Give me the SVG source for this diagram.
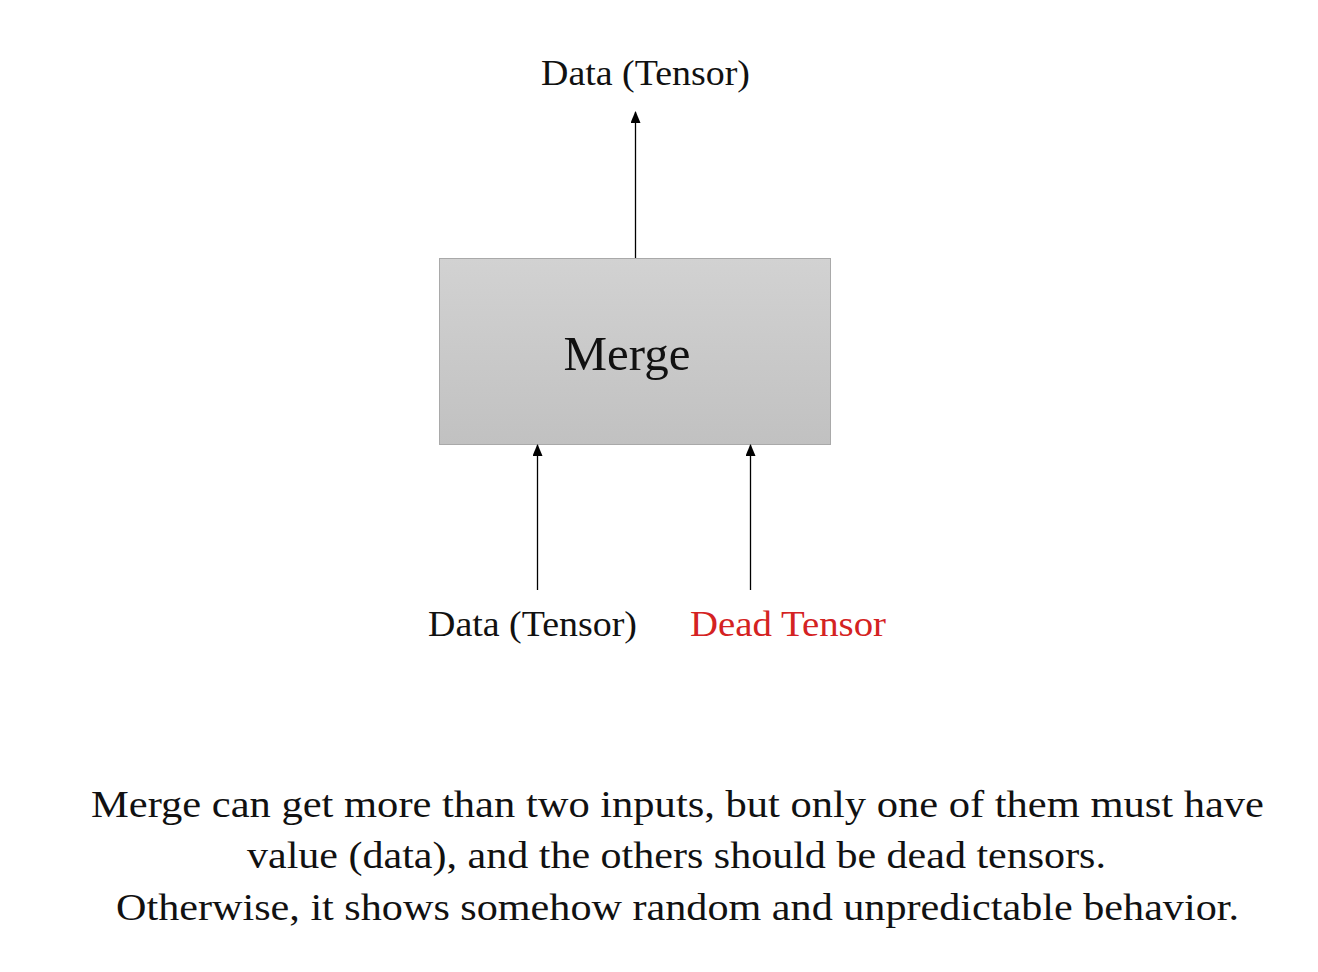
<svg xmlns="http://www.w3.org/2000/svg" width="1318" height="972" viewBox="0 0 1318 972">
<style>
text{font-family:"Liberation Serif","Times New Roman",serif;fill:#111;}
.lbl{font-size:36px;}
.para{font-size:37px;text-anchor:middle;}
.conn line{stroke:#000;stroke-width:1.3;marker-end:url(#arr);}
</style>
<defs>
<marker id="arr" viewBox="0 0 12 10" refX="11" refY="5" markerWidth="12" markerHeight="10" markerUnits="userSpaceOnUse" orient="auto">
<path d="M0,0 L12,5 L0,10 Z" fill="#000"/>
</marker>
<linearGradient id="g" x1="0" y1="0" x2="0" y2="1">
<stop offset="0" stop-color="#d2d2d2"/>
<stop offset="1" stop-color="#c1c1c1"/>
</linearGradient>
</defs>
<rect width="1318" height="972" fill="#fff"/>
<g id="merge">
<rect x="439.5" y="258.5" width="391" height="186" fill="url(#g)" stroke="#a9a9a9" stroke-width="1"/>
<text x="627" y="370" font-size="48" text-anchor="middle" textLength="127" lengthAdjust="spacingAndGlyphs">Merge</text>
</g>
<g id="out-label">
<text class="lbl" x="541" y="85" textLength="209" lengthAdjust="spacingAndGlyphs">Data (Tensor)</text>
</g>
<g id="in-data">
<text class="lbl" x="428" y="636" textLength="209" lengthAdjust="spacingAndGlyphs">Data (Tensor)</text>
</g>
<g id="in-dead">
<text class="lbl" x="690" y="636" textLength="196" lengthAdjust="spacingAndGlyphs" style="fill:#d42222">Dead Tensor</text>
</g>
<g class="conn" id="connectors">
<line x1="635.5" y1="258" x2="635.5" y2="112"/>
<line x1="537.5" y1="590" x2="537.5" y2="445"/>
<line x1="750.5" y1="590" x2="750.5" y2="445"/>
</g>
<g id="caption">
<text class="para" x="677.5" y="817" textLength="1173" lengthAdjust="spacingAndGlyphs">Merge can get more than two inputs, but only one of them must have</text>
<text class="para" x="676.5" y="868" textLength="859" lengthAdjust="spacingAndGlyphs">value (data), and the others should be dead tensors.</text>
<text class="para" x="677.5" y="920" textLength="1123" lengthAdjust="spacingAndGlyphs">Otherwise, it shows somehow random and unpredictable behavior.</text>
</g>
</svg>
